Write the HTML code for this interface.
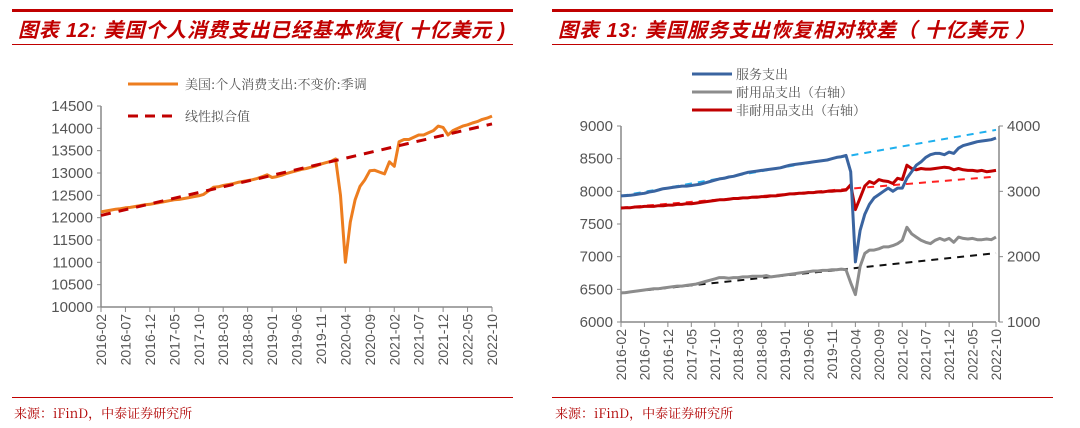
<!DOCTYPE html>
<html><head><meta charset="utf-8"><style>
html,body{margin:0;padding:0;background:#fff;width:1080px;height:428px;overflow:hidden}
svg{display:block}
text{font-family:"Liberation Sans","Noto Sans CJK SC",sans-serif}
.cn{font-family:"Noto Serif CJK SC","Noto Sans CJK SC",serif}
</style></head><body>
<svg id="s" width="1080" height="428" xmlns="http://www.w3.org/2000/svg">
<g>
<rect x="12" y="9" width="501" height="3" fill="#c00000"/>
<text x="18" y="37" font-size="20" font-weight="bold" font-style="italic" fill="#c00000" textLength="487" lengthAdjust="spacing">图表 12: 美国个人消费支出已经基本恢复( 十亿美元 )</text>
<rect x="12" y="44" width="501" height="1" fill="#c00000"/>
</g>
<g>
<rect x="552" y="9" width="501" height="3" fill="#c00000"/>
<text x="558" y="37" font-size="20" font-weight="bold" font-style="italic" fill="#c00000" textLength="477" lengthAdjust="spacing">图表 13:  美国服务支出恢复相对较差（ 十亿美元 ）</text>
<rect x="552" y="44" width="501" height="1" fill="#c00000"/>
</g>
<rect x="12" y="397" width="501" height="1" fill="#c00000"/>
<rect x="552" y="397" width="501" height="1" fill="#c00000"/>
<text x="14" y="418" font-size="13" fill="#b00000" class="cn">来源：iFinD，中泰证券研究所</text>
<text x="555" y="418" font-size="13" fill="#b00000" class="cn">来源：iFinD，中泰证券研究所</text>

<g>
<line x1="128" y1="84" x2="178" y2="84" stroke="#ed7d1f" stroke-width="3"/>
<text x="185" y="89" font-size="13" fill="#555" class="cn">美国:个人消费支出:不变价:季调</text>
<line x1="128" y1="116" x2="178" y2="116" stroke="#c00000" stroke-width="3" stroke-dasharray="10,7"/>
<text x="185" y="121" font-size="13" fill="#555" class="cn">线性拟合值</text>
</g>
<g>
<line x1="692" y1="74" x2="732" y2="74" stroke="#3a64a0" stroke-width="3"/>
<text x="736" y="79" font-size="13" fill="#555" class="cn">服务支出</text>
<line x1="692" y1="92" x2="732" y2="92" stroke="#8c8c8c" stroke-width="3"/>
<text x="736" y="97" font-size="13" fill="#555" class="cn">耐用品支出（右轴）</text>
<line x1="692" y1="110" x2="732" y2="110" stroke="#c00000" stroke-width="3"/>
<text x="736" y="115" font-size="13" fill="#555" class="cn">非耐用品支出（右轴）</text>
</g>
</svg>
<script>
const xLabels=["2016-02","2016-07","2016-12","2017-05","2017-10","2018-03","2018-08","2019-01","2019-06","2019-11","2020-04","2020-09","2021-02","2021-07","2021-12","2022-05","2022-10"];
const leftTicks=[10000,10500,11000,11500,12000,12500,13000,13500,14000,14500];
const rightLTicks=[6000,6500,7000,7500,8000,8500,9000];
const rightRTicks=[1000,2000,3000,4000];
// monthly 2016-02 .. 2022-10 (81 values)
const pce=[12130,12150,12170,12190,12200,12220,12230,12250,12270,12290,12300,12320,
12340,12360,12380,12400,12410,12430,12450,12470,12490,12520,12600,12680,
12690,12720,12740,12760,12790,12810,12830,12850,12880,12920,12960,12900,
12920,12950,12990,13020,13050,13080,13100,13130,13160,13200,13230,13260,
13315,
12500,11000,11900,12400,12700,12850,13050,13060,13020,12980,
13250,13150,13700,13750,13750,13800,13850,13850,13900,13950,14050,14020,
13850,13950,14000,14050,14080,14120,14150,14200,14230,14275];
const pceTrend=[12050,14100];
const services=[7930,7935,7940,7950,7960,7970,7990,8000,8020,8040,8050,8060,
8070,8080,8080,8090,8100,8110,8130,8150,8170,8190,8200,8220,
8230,8250,8270,8290,8300,8310,8320,8330,8340,8350,8360,8380,
8400,8410,8420,8430,8440,8450,8460,8470,8480,8500,8520,8530,
8550,
8300,6920,7400,7650,7800,7900,7950,8000,8050,8000,
8050,8050,8200,8300,8400,8450,8520,8560,8580,8580,8560,8600,
8580,8660,8700,8720,8740,8760,8770,8780,8790,8816];
const servicesTrend=[7930,8940];
const nondur=[2745,2750,2750,2760,2760,2770,2770,2770,2780,2780,2790,2790,
2800,2800,2810,2810,2820,2830,2840,2850,2860,2870,2870,2880,
2890,2890,2900,2900,2910,2910,2920,2920,2930,2930,2940,2950,
2960,2960,2970,2970,2980,2980,2990,2990,3000,3000,3010,3010,
3020,
3100,2720,2900,3080,3150,3120,3180,3160,3150,3120,
3200,3180,3400,3350,3330,3350,3340,3340,3350,3360,3370,3360,
3330,3350,3330,3320,3320,3310,3320,3300,3310,3320];
const nondurTrend=[2750,3225];
const dur=[1445,1450,1460,1470,1480,1490,1500,1510,1510,1520,1530,1540,
1550,1550,1560,1570,1580,1600,1620,1640,1660,1680,1680,1670,
1680,1680,1690,1690,1700,1700,1700,1710,1690,1700,1710,1720,
1730,1740,1750,1760,1770,1780,1780,1790,1790,1800,1800,1810,
1800,
1600,1420,1850,2050,2100,2100,2120,2150,2150,2170,
2200,2250,2450,2350,2300,2250,2220,2200,2250,2280,2250,2280,
2220,2300,2280,2270,2280,2260,2260,2270,2260,2300];
const durTrend=[1445,2055];

const NS="http://www.w3.org/2000/svg";
const svg=document.getElementById('s');
function mk(tag,attrs,parent){const e=document.createElementNS(NS,tag);for(const k in attrs)e.setAttribute(k,attrs[k]);(parent||svg).appendChild(e);return e;}
function xScale(x0,x1,n){return i=>x0+(x1-x0)*i/(n-1);}
function yScale(v0,v1,y0,y1){return v=>y0+(v-v0)*(y1-y0)/(v1-v0);}
function line(vals,xs,ys,color,w,dash,name){
  const n=vals.length;let d='';
  vals.forEach((v,i)=>{d+=(i?'L':'M')+xs(i*(80/(n-1))).toFixed(1)+','+ys(v).toFixed(1);});
  const p=mk('path',{d:d,fill:'none',stroke:color,'stroke-width':w,'stroke-linejoin':'round'});
  if(dash)p.setAttribute('stroke-dasharray',dash);
  
  
}
function xAxis(x0,x1,yAx,prefix){
  const xs=xScale(x0,x1,81);
  mk('line',{x1:x0,y1:yAx,x2:x1,y2:yAx,stroke:'#888','stroke-width':1.5});
  xLabels.forEach((l,k)=>{
    const x=xs(k*5);
    mk('line',{x1:x,y1:yAx,x2:x,y2:yAx+5,stroke:'#888','stroke-width':1});
    const t=mk('text',{x:0,y:0,'font-size':14,fill:'#555','text-anchor':'end',transform:`translate(${x+5},${yAx+7}) rotate(-90)`});
    t.textContent=l;
    
    
  });
  return xs;
}
function yAxis(ticks,ys,xAx,side,prefix){
  mk('line',{x1:xAx,y1:ys(ticks[0]),x2:xAx,y2:ys(ticks[ticks.length-1]),stroke:'#888','stroke-width':1.5});
  ticks.forEach(v=>{
    const y=ys(v);
    mk('line',{x1:xAx,y1:y,x2:xAx+(side==='l'?-4:4),y2:y,stroke:'#888','stroke-width':1});
    const t=mk('text',{x:side==='l'?xAx-8:xAx+8,y:y+5,'font-size':15,fill:'#555','text-anchor':side==='l'?'end':'start'});
    t.textContent=v;
    
    
  });
}
// left chart
const lys=yScale(10000,14500,307,106);
yAxis(leftTicks,lys,101,'l','left');
const lxs=xAxis(101,492,307,'left');
line(pce,lxs,lys,'#ed7d1f',3,null,'pce-line');
line(pceTrend,lxs,lys,'#c00000',3,'10,8','pce-trend-line');
// right chart
const rly=yScale(6000,9000,322,126);
const rry=yScale(1000,4000,322,126);
yAxis(rightLTicks,rly,621,'l','right-left');
yAxis(rightRTicks,rry,999,'r','right-right');
const rxs=xAxis(621,996,322,'right');
line(servicesTrend,rxs,rly,'#1fb0ee',2,'7,6','services-trend-line');
line(durTrend,rxs,rry,'#111',2,'7,6','durables-trend-line');
line(nondurTrend,rxs,rry,'#ff2020',2,'7,6','nondurables-trend-line');
line(dur,rxs,rry,'#8c8c8c',3,null,'durables-line');
line(nondur,rxs,rry,'#c00000',3,null,'nondurables-line');
line(services,rxs,rly,'#3a64a0',3,null,'services-line');
</script>
</body></html>
